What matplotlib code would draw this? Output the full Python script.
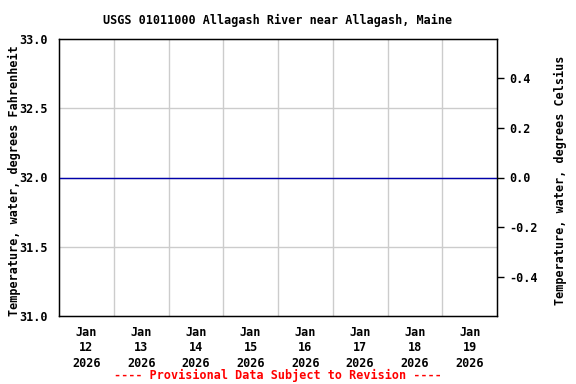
import matplotlib
matplotlib.use("Agg")
import matplotlib.pyplot as plt
import pandas as pd

# chart data
title = "USGS 01011000 Allagash River near Allagash, Maine"
start_date = "2026-01-12"
end_date = "2026-01-20"
freeze_f = 32.0
y_min_f = 31.0
y_max_f = 33.0
left_ticks = [31.0, 31.5, 32.0, 32.5, 33.0]
right_ticks = [-0.4, -0.2, 0.0, 0.2, 0.4]

plt.rcParams['font.family'] = 'DejaVu Sans Mono'
plt.rcParams['font.weight'] = 'bold'
fs = 8.5

fig = plt.figure(figsize=(5.76, 3.84), dpi=100)
ax = fig.add_axes([59/576, 1-316/384, 438/576, 277/384])

t0 = pd.Timestamp(start_date)
t1 = pd.Timestamp(end_date)
days = pd.date_range(t0, t1, freq="D")
noons = days[:-1] + pd.Timedelta(hours=12)

# freezing line across the period
ax.plot([t0, t1], [freeze_f, freeze_f], color="#0000aa", lw=1.0, zorder=3)

ax.set_xlim(t0, t1)
ax.set_ylim(y_min_f, y_max_f)

# grid at midnight, labels at noon
for d in days[1:-1]:
    ax.axvline(d, color="#cccccc", lw=1.0, zorder=1)
for v in left_ticks[1:-1]:
    ax.axhline(v, color="#cccccc", lw=1.0, zorder=1)

ax.set_xticks(noons)
ax.set_xticklabels([f"{d:%b}\n{d.day}\n{d.year}" for d in noons], fontsize=fs,
                   fontweight="bold", linespacing=1.25)
ax.tick_params(axis="x", length=0, pad=7)
ax.set_yticks(left_ticks)
ax.set_yticklabels([f"{v:.1f}" for v in left_ticks], fontsize=fs, fontweight="bold")
ax.tick_params(axis="y", length=0, pad=8)
ax.set_ylabel("Temperature, water, degrees Fahrenheit", fontsize=fs,
              fontweight="bold")
ax.yaxis.set_label_coords((21 - 59) / 438, 0.49)

for s in ax.spines.values():
    s.set_linewidth(1.0)

ax2 = ax.twinx()
ax2.set_ylim((y_min_f - 32) * 5 / 9, (y_max_f - 32) * 5 / 9)
ax2.set_yticks(right_ticks)
ax2.set_yticklabels([f"{v:.1f}" for v in right_ticks], fontsize=fs, fontweight="bold")
ax2.tick_params(axis="y", length=5, width=1.0, direction="out", pad=4)
ax2.set_ylabel("Temperature, water, degrees Celsius", fontsize=fs,
               fontweight="bold")
ax2.yaxis.set_label_coords((554 - 59) / 438, 0.49)

fig.text(0.5 * (59 + 497) / 576, 1 - 20/384, title,
         fontsize=fs, fontweight="bold", ha="center", va="center")
fig.text(0.5 * (59 + 497) / 576, 1 - 375/384,
         "---- Provisional Data Subject to Revision ----",
         color="red", fontsize=fs, fontweight="bold", ha="center", va="center")

fig.savefig("out.png", dpi=100)
